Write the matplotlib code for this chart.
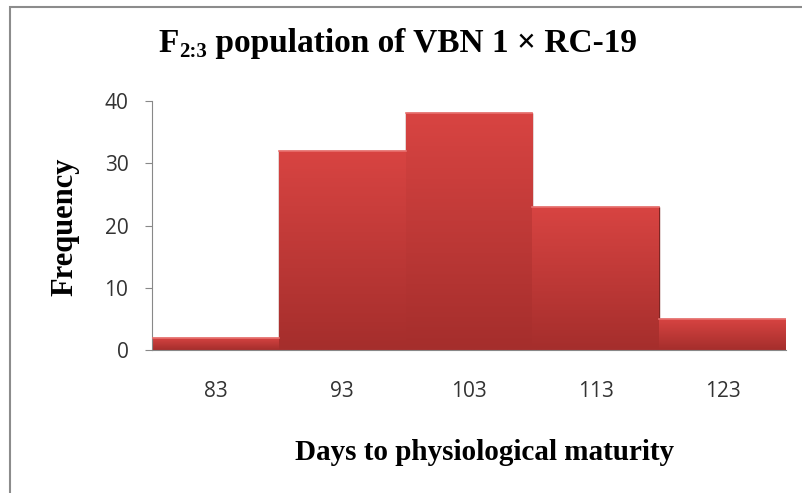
import numpy as np
import matplotlib.pyplot as plt
from matplotlib.patches import Rectangle
from matplotlib.colors import LinearSegmentedColormap

days = [83, 93, 103, 113, 123]
freq = [2, 32, 38, 23, 5]
yticks = [0, 10, 20, 30, 40]

fig = plt.figure(figsize=(8.03, 4.93), dpi=100)
ax = fig.add_axes([152/803, 1-350/493, (786-152)/803, (350-101)/493])

# outer chart border
fig.patches.append(Rectangle((10/803, -0.5), 1.5, 1.5 - 7/493, transform=fig.transFigure,
                             fill=False, edgecolor='#8c8c8c', linewidth=1.5))

grad = np.linspace(0, 1, 100).reshape(-1, 1)
cmap = LinearSegmentedColormap.from_list('r', ['#a52e2c', '#d84442'])
for d, f in zip(days, freq):
    bar = ax.bar(d, f, width=10, color='#c43c3a', edgecolor='#7e2523', linewidth=1.0)[0]
    im = ax.imshow(grad, extent=[d-5, d+5, 0, f], origin='lower', aspect='auto',
                   cmap=cmap, zorder=2)
    im.set_clip_path(bar)
    ax.plot([d-5, d+5], [f, f], color='#e8706e', linewidth=1.2, zorder=3)

ax.set_xlim(78, 128)
ax.set_ylim(0, 40)
ax.set_xticks(days)
ax.set_yticks(yticks)
ax.tick_params(axis='x', length=0, pad=22, labelsize=15, labelcolor='#333333')
ax.tick_params(axis='y', length=5, color='#888888', labelsize=15, labelcolor='#333333', pad=12)
for t in ax.get_xticklabels() + ax.get_yticklabels():
    t.set_family('Open Sans')
for s in ['top', 'right']:
    ax.spines[s].set_visible(False)
ax.spines['left'].set_color('#888888')
ax.spines['bottom'].set_color('#888888')

# title built from pieces so the subscript stays in the serif font
tf = dict(family='Liberation Serif', fontweight='bold')
t1 = fig.text(158/803, 1-52/493, 'F', ha='left', va='baseline', fontsize=24, **tf)
t2 = fig.text(0, 0, '2:3', fontsize=15, ha='left', va='baseline', **tf)
t3 = fig.text(0, 0, ' population of VBN 1 × RC-19', fontsize=24, ha='left', va='baseline', **tf)
fig.canvas.draw()
r = fig.canvas.get_renderer()
bb1 = t1.get_window_extent(r)
t2.set_position(((bb1.x1 + 1) / fig.bbox.width, (1-52/493) - 5/493))
bb2 = t2.get_window_extent(r)
t3.set_position((bb2.x1 / fig.bbox.width, 1-52/493))

fig.text(485/803, 1-453/493, 'Days to physiological maturity', ha='center', va='center',
         family='Liberation Serif', fontsize=21, fontweight='bold')
fig.text(65/803, 1-227/493, 'Frequency', ha='center', va='center', rotation=90,
         family='Liberation Serif', fontsize=22, fontweight='bold')

fig.savefig('out.png', dpi=100)
